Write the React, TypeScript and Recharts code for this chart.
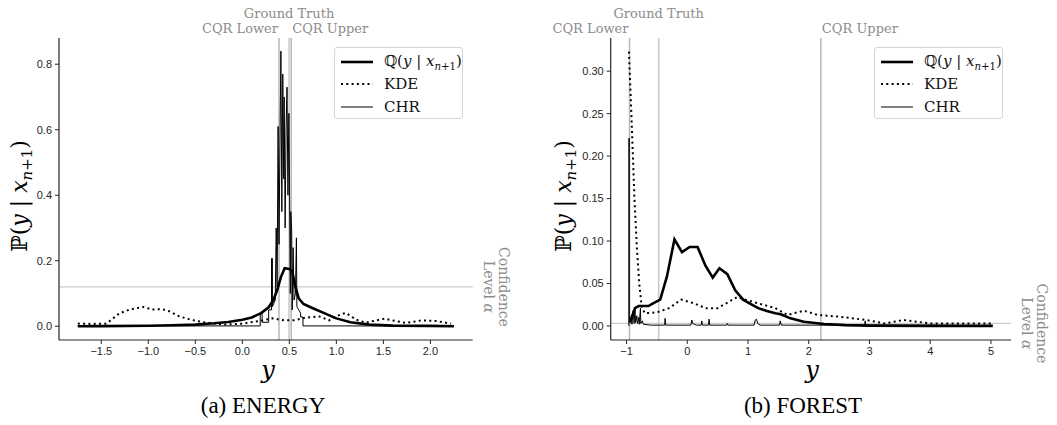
import React from 'react';
import { LineChart, Line, XAxis, YAxis, ReferenceLine } from 'recharts';

type Pt = [number, number];

// ---------------- ENERGY ----------------
const energyQ: Pt[] = [
  [-1.75, 0.0], [-1.5, 0.0005], [-1.0, 0.0015], [-0.75, 0.003], [-0.5, 0.005], [-0.3, 0.009],
  [-0.15, 0.013], [0.0, 0.02], [0.1, 0.027], [0.2, 0.04], [0.28, 0.058], [0.33, 0.08], [0.37, 0.11],
  [0.41, 0.15], [0.45, 0.177], [0.5, 0.175], [0.53, 0.168], [0.56, 0.125], [0.6, 0.085], [0.65, 0.068],
  [0.75, 0.055], [0.87, 0.04], [1.0, 0.024], [1.15, 0.012], [1.35, 0.005], [1.6, 0.002], [2.0, 0.001], [2.25, 0.0],
];
const energyKDE: Pt[] = [
  [-1.75, 0.008], [-1.6, 0.007], [-1.45, 0.008], [-1.4, 0.018], [-1.31, 0.039], [-1.2, 0.051], [-1.05, 0.059],
  [-0.96, 0.051], [-0.85, 0.052], [-0.78, 0.046], [-0.67, 0.03], [-0.55, 0.02], [-0.43, 0.013], [-0.3, 0.008],
  [-0.18, 0.005], [0.0, 0.008], [0.18, 0.016], [0.32, 0.024], [0.45, 0.018], [0.55, 0.018], [0.67, 0.026],
  [0.82, 0.03], [0.92, 0.018], [1.03, 0.034], [1.1, 0.041], [1.21, 0.02], [1.31, 0.011], [1.51, 0.023],
  [1.63, 0.016], [1.74, 0.01], [1.91, 0.018], [2.06, 0.016], [2.22, 0.008],
];
const energyCHR: Pt[] = [
  [-1.75, 0.001], [0.19, 0.001], [0.19, 0.04], [0.21, 0.04], [0.21, 0.012], [0.28, 0.012], [0.28, 0.05],
  [0.31, 0.05], [0.31, 0.207], [0.32, 0.207], [0.32, 0.06], [0.35, 0.08], [0.36, 0.3], [0.37, 0.12],
  [0.38, 0.61], [0.39, 0.25], [0.4, 0.55], [0.41, 0.84], [0.42, 0.35], [0.43, 0.77], [0.44, 0.45],
  [0.445, 0.7], [0.455, 0.3], [0.465, 0.6], [0.475, 0.73], [0.485, 0.4], [0.495, 0.65], [0.5, 0.51],
  [0.51, 0.1], [0.515, 0.35], [0.525, 0.29], [0.53, 0.05], [0.54, 0.24], [0.55, 0.08], [0.565, 0.1],
  [0.575, 0.27], [0.58, 0.06], [0.6, 0.05], [0.62, 0.04], [0.62, 0.028], [0.645, 0.028], [0.645, 0.001],
  [2.25, 0.001],
];
const energyXTicks = [-1.5, -1.0, -0.5, 0.0, 0.5, 1.0, 1.5, 2.0];
const energyYTicks = [0.0, 0.2, 0.4, 0.6, 0.8];
const energyMarks = { cqrLower: 0.39, groundTruth: 0.497, cqrUpper: 0.52, alpha: 0.12 };

// ---------------- FOREST ----------------
const forestQ: Pt[] = [
  [-0.94, 0.005], [-0.86, 0.021], [-0.8, 0.0235], [-0.64, 0.0235], [-0.555, 0.027], [-0.445, 0.031],
  [-0.335, 0.058], [-0.21, 0.102], [-0.087, 0.087], [0.04, 0.093], [0.17, 0.093], [0.3, 0.071], [0.42, 0.057],
  [0.53, 0.068], [0.66, 0.061], [0.79, 0.042], [0.92, 0.031], [1.04, 0.026], [1.17, 0.021], [1.31, 0.0177],
  [1.45, 0.015], [1.54, 0.0138], [1.7, 0.009], [1.92, 0.005], [2.25, 0.0024], [2.6, 0.001], [3.0, 0.0004],
  [4.0, 0.0001], [5.03, 0.0],
];
const forestKDE: Pt[] = [
  [-0.96, 0.323], [-0.92, 0.25], [-0.87, 0.152], [-0.83, 0.093], [-0.79, 0.05], [-0.75, 0.023], [-0.7, 0.015],
  [-0.5, 0.016], [-0.3, 0.021], [-0.1, 0.031], [0.1, 0.027], [0.3, 0.021], [0.5, 0.021], [0.65, 0.027],
  [0.82, 0.034], [1.0, 0.03], [1.2, 0.026], [1.45, 0.021], [1.65, 0.013], [1.92, 0.018], [2.15, 0.013],
  [2.5, 0.011], [2.95, 0.007], [3.25, 0.003], [3.56, 0.007], [4.0, 0.003], [4.5, 0.003], [5.03, 0.003],
];
const forestCHR: Pt[] = [
  [-0.96, 0.0], [-0.96, 0.221], [-0.955, 0.221], [-0.955, 0.004], [-0.93, 0.004], [-0.92, 0.012],
  [-0.91, 0.002], [-0.89, 0.018], [-0.875, 0.003], [-0.86, 0.02], [-0.85, 0.004], [-0.83, 0.012],
  [-0.82, 0.003], [-0.8, 0.01], [-0.79, 0.002], [-0.77, 0.021], [-0.765, 0.003], [-0.74, 0.006],
  [-0.72, 0.002], [-0.6, 0.001], [-0.37, 0.001], [-0.365, 0.009], [-0.355, 0.001], [0.06, 0.001],
  [0.075, 0.007], [0.09, 0.003], [0.15, 0.001], [0.23, 0.001], [0.24, 0.006], [0.25, 0.001], [0.35, 0.001],
  [0.36, 0.008], [0.37, 0.001], [0.65, 0.001], [0.66, 0.003], [0.67, 0.001], [1.1, 0.001], [1.12, 0.007],
  [1.14, 0.008], [1.16, 0.003], [1.2, 0.001], [1.52, 0.001], [1.53, 0.006], [1.55, 0.001], [2.92, 0.001],
  [2.93, 0.006], [2.94, 0.001], [5.03, 0.001],
];
const forestXTicks = [-1, 0, 1, 2, 3, 4, 5];
const forestYTicks = [0.0, 0.05, 0.1, 0.15, 0.2, 0.25, 0.3];
const forestMarks = { cqrLower: -0.95, groundTruth: -0.47, cqrUpper: 2.2, alpha: 0.003 };

const legendNames = ['Q', 'KDE', 'CHR'];
const captions = ['(a) ENERGY', '(b) FOREST'];

const toRows = (pts: Pt[]) => pts.map(([x, y]) => ({ x, y }));
const MINUS = '\u2212';
const fmt = (d: number) => (v: number) => (v < 0 ? MINUS : '') + Math.abs(v).toFixed(d);

const AXIS = '#262626';
const GRAY_TEXT = '#8c8c8c';
const SERIF = "'DejaVu Serif', serif";
const TOP = 38;
const BOTTOM = 340;

const topLabel = (text: string, anchor: 'start' | 'middle' | 'end', dx: number, up: number) => (props: any) => {
  const vb = props.viewBox || {};
  return (
    <text x={vb.x + dx} y={vb.y - up} textAnchor={anchor} fill={GRAY_TEXT} fontFamily={SERIF} fontSize={13}>
      {text}
    </text>
  );
};

const alphaLabel = (props: any) => {
  const vb = props.viewBox || {};
  const right = vb.x + vb.width;
  const y = vb.y;
  return (
    <g>
      <text transform={`translate(${right + 31},${y}) rotate(90)`} textAnchor="middle" dominantBaseline="central"
        fill={GRAY_TEXT} fontFamily={SERIF} fontSize={14}>Confidence</text>
      <text transform={`translate(${right + 16},${y}) rotate(90)`} textAnchor="middle" dominantBaseline="central"
        fill={GRAY_TEXT} fontFamily={SERIF} fontSize={14}>Level <tspan fontStyle="italic">α</tspan></text>
    </g>
  );
};

type PanelProps = {
  left: number; width: number; plotLeft: number; plotRight: number;
  xDomain: [number, number]; yDomain: [number, number];
  xTicks: number[]; yTicks: number[]; xDec: number; yDec: number;
  q: Pt[]; kde: Pt[]; chr: Pt[];
  marks: { cqrLower: number; groundTruth: number; cqrUpper: number; alpha: number };
};

const Y_AXIS_W = 45;
const X_AXIS_H = 30;

function Panel(p: PanelProps) {
  const margin = {
    top: TOP,
    bottom: 425 - BOTTOM - X_AXIS_H,
    left: p.plotLeft - p.left - Y_AXIS_W,
    right: p.left + p.width - p.plotRight,
  };
  return (
    <div style={{ position: 'absolute', left: p.left, top: 0 }}>
      <LineChart width={p.width} height={425} margin={margin}>
        <XAxis type="number" dataKey="x" domain={p.xDomain} ticks={p.xTicks} allowDataOverflow interval={0}
          tickFormatter={fmt(p.xDec)} height={X_AXIS_H} tickSize={4} tickMargin={3}
          axisLine={{ stroke: AXIS, strokeWidth: 1.2 }} tickLine={{ stroke: AXIS }}
          tick={{ fill: AXIS, fontSize: 11, fontFamily: "'Liberation Sans', Arial, sans-serif" }} />
        <YAxis type="number" dataKey="y" domain={p.yDomain} ticks={p.yTicks} allowDataOverflow interval={0}
          tickFormatter={fmt(p.yDec)} width={Y_AXIS_W} tickSize={4} tickMargin={3}
          axisLine={{ stroke: AXIS, strokeWidth: 1.2 }} tickLine={{ stroke: AXIS }}
          tick={{ fill: AXIS, fontSize: 11, fontFamily: "'Liberation Sans', Arial, sans-serif" }} />
        <ReferenceLine y={p.marks.alpha} stroke="#cccccc" strokeWidth={1.2} label={alphaLabel} />
        <ReferenceLine x={p.marks.cqrLower} stroke="#b0b8c4" strokeWidth={1.5}
          label={topLabel('CQR Lower', 'end', -1, 5)} />
        <ReferenceLine x={p.marks.groundTruth} stroke="#c8c8c8" strokeWidth={1.5}
          label={topLabel('Ground Truth', 'middle', 0, 20)} />
        <ReferenceLine x={p.marks.cqrUpper} stroke="#b0b8c4" strokeWidth={1.5}
          label={topLabel('CQR Upper', 'start', 1, 5)} />
        <Line data={toRows(p.q)} dataKey="y" name={legendNames[0]} type="linear" stroke="#000" strokeWidth={2.6}
          dot={false} activeDot={false} isAnimationActive={false} />
        <Line data={toRows(p.kde)} dataKey="y" name={legendNames[1]} type="linear" stroke="#000" strokeWidth={2}
          strokeDasharray="2 3.3" dot={false} activeDot={false} isAnimationActive={false} />
        <Line data={toRows(p.chr)} dataKey="y" name={legendNames[2]} type="linear" stroke="#000" strokeWidth={1}
          dot={false} activeDot={false} isAnimationActive={false} />
      </LineChart>
    </div>
  );
}

function LegendBox({ left }: { left: number }) {
  const sample = (dash?: string, w = 1) => (
    <svg width={32} height={10} style={{ display: 'block' }}>
      <line x1={0} y1={5} x2={32} y2={5} stroke="#000" strokeWidth={w} strokeDasharray={dash} />
    </svg>
  );
  const row = (s: React.ReactNode, label: React.ReactNode, top: number) => (
    <div style={{ position: 'absolute', left: 6, top: top - 11, height: 22, display: 'flex', alignItems: 'center' }}>
      {s}
      <span style={{ marginLeft: 11, fontFamily: SERIF, fontSize: 15, color: '#111', whiteSpace: 'nowrap' }}>{label}</span>
    </div>
  );
  return (
    <div style={{
      position: 'absolute', left, top: 47, width: 129, height: 72, border: '1px solid #d4d4d4',
      borderRadius: 3, background: 'rgba(255,255,255,0.85)', boxSizing: 'border-box',
    }}>
      {row(sample(undefined, 2.6), <span>ℚ(<i>y</i> | <i>x</i><sub style={{ fontSize: '0.68em' }}><i>n</i>+1</sub>)</span>, 14)}
      {row(sample('2 3.3', 2), legendNames[1], 36)}
      {row(sample(undefined, 1), legendNames[2], 59)}
    </div>
  );
}

function YLabel({ cx, cy }: { cx: number; cy: number }) {
  return (
    <div style={{
      position: 'absolute', left: cx, top: cy, transform: 'translate(-50%, -50%) rotate(-90deg)',
      fontFamily: SERIF, fontSize: 22, color: '#000', whiteSpace: 'nowrap', lineHeight: 1,
    }}>
      ℙ(<i>y</i> | <i>x</i><sub style={{ fontSize: '0.68em' }}><i>n</i>+1</sub>)
    </div>
  );
}

function XLabel({ cx, cy }: { cx: number; cy: number }) {
  return (
    <div style={{
      position: 'absolute', left: cx, top: cy, transform: 'translate(-50%, -50%)',
      fontFamily: SERIF, fontSize: 24, fontStyle: 'italic', color: '#000', lineHeight: 1,
    }}>y</div>
  );
}

function Caption({ cx, text }: { cx: number; text: string }) {
  return (
    <div style={{
      position: 'absolute', left: cx, top: 394, transform: 'translateX(-50%)',
      fontFamily: "'Liberation Serif', 'Times New Roman', serif", fontSize: 23, color: '#000',
      whiteSpace: 'nowrap', lineHeight: 1,
    }}>{text}</div>
  );
}

export default function App() {
  return (
    <div style={{ position: 'absolute', left: 0, top: 0, width: 1057, height: 425, background: '#fff', overflow: 'hidden' }}>
      <Panel left={0} width={530} plotLeft={59} plotRight={472.7} xDomain={[-1.95, 2.45]} yDomain={[-0.042, 0.88]}
        xTicks={energyXTicks} yTicks={energyYTicks} xDec={1} yDec={1}
        q={energyQ} kde={energyKDE} chr={energyCHR} marks={energyMarks} />
      <Panel left={530} width={527} plotLeft={610.7} plotRight={1011} xDomain={[-1.26, 5.33]} yDomain={[-0.0165, 0.339]}
        xTicks={forestXTicks} yTicks={forestYTicks} xDec={0} yDec={2}
        q={forestQ} kde={forestKDE} chr={forestCHR} marks={forestMarks} />
      <LegendBox left={334} />
      <LegendBox left={874} />
      <YLabel cx={22} cy={196} />
      <YLabel cx={566} cy={196} />
      <XLabel cx={268} cy={370} />
      <XLabel cx={812} cy={370} />
      <Caption cx={263} text={captions[0]} />
      <Caption cx={803} text={captions[1]} />
    </div>
  );
}
